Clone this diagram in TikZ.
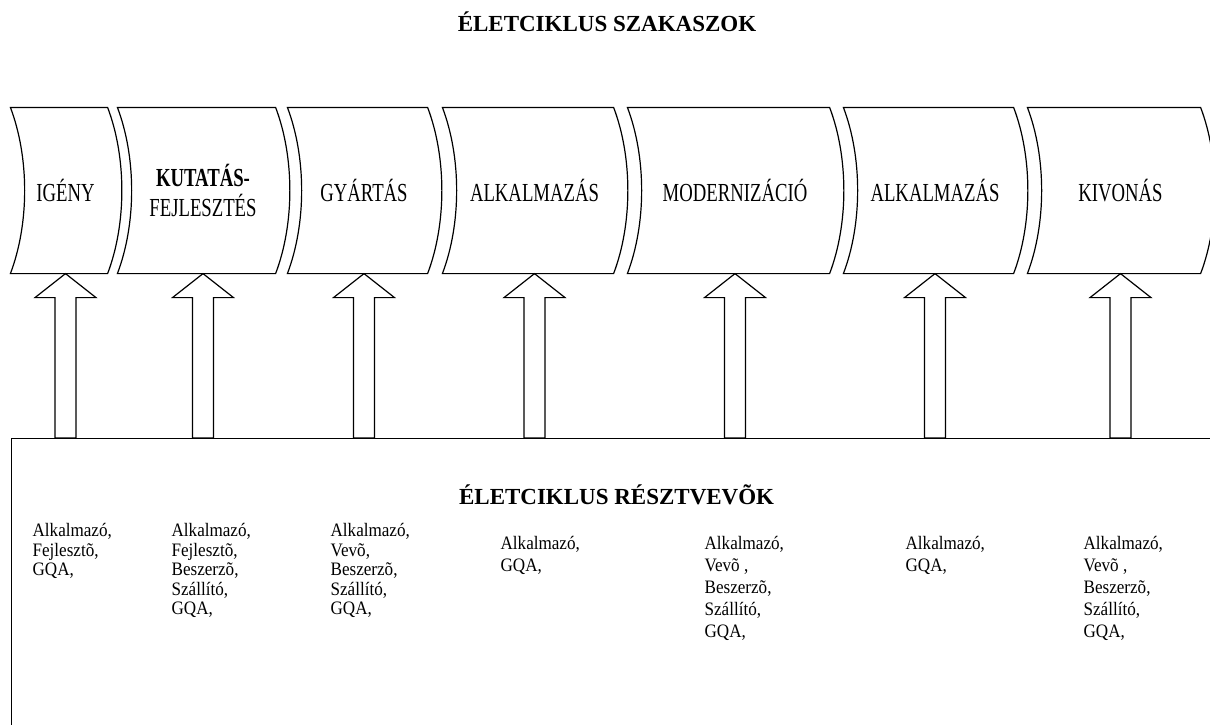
\documentclass[tikz,border=0pt]{standalone}
\usepackage{fontspec}
\setmainfont{Liberation Serif}
\newfontfamily\stagefont[FakeStretch=0.72]{Liberation Serif}
\newfontfamily\partyfont[FakeStretch=0.9]{Liberation Serif}
\usepackage{tikz}

\begin{document}
\begin{tikzpicture}[x=1pt,y=-1pt,line width=1.2pt,
    stage/.style={shape=rectangle,minimum height=165pt,inner sep=0pt,align=center,font=\stagefont\fontsize{26}{30}\selectfont},
    heading/.style={font=\bfseries\fontsize{23}{27}\selectfont},
    party/.style={anchor=north west,inner sep=0pt,align=left,font=\partyfont\fontsize{19}{19.5}\selectfont},
    partyb/.style={party,font=\partyfont\fontsize{19}{22}\selectfont}]
    \useasboundingbox (0,0) rectangle (1210,724);
    \clip (0,0) rectangle (1210,724);

    \node[heading] (szakaszok) at (607,22) {ÉLETCIKLUS SZAKASZOK};

    \node[draw,anchor=north west,minimum width=1210pt,minimum height=320pt,inner sep=0pt] (rv) at (11,438) {};
    \node[heading] (resztvevok) at ([yshift=-57pt]rv.north) {ÉLETCIKLUS RÉSZTVEVÕK};

    \node[stage,minimum width=96pt] (igeny) at (65.5,190.5) {IGÉNY};
    \node[stage,minimum width=157pt] (kutatas) at (203,190.5) {\textbf{KUTATÁS-}\\FEJLESZTÉS};
    \node[stage,minimum width=139pt] (gyartas) at (364,190.5) {GYÁRTÁS};
    \node[stage,minimum width=170pt] (alkalmazas) at (534.5,190.5) {ALKALMAZÁS};
    \node[stage,minimum width=201pt] (moderniz) at (735,190.5) {MODERNIZÁCIÓ};
    \node[stage,minimum width=169pt] (alkalmazasb) at (935,190.5) {ALKALMAZÁS};
    \node[stage,minimum width=172pt] (kivonas) at (1120.5,190.5) {KIVONÁS};

    \foreach \s in {igeny,kutatas,gyartas,alkalmazas,moderniz,alkalmazasb,kivonas}{
      \draw ([xshift=-6.5pt]\s.north west) -- ([xshift=-6.5pt]\s.north east)
        .. controls ([xshift=12.5pt,yshift=-50pt]\s.north east) and ([xshift=12.5pt,yshift=50pt]\s.south east) .. ([xshift=-6.5pt]\s.south east)
        -- ([xshift=-6.5pt]\s.south west)
        .. controls ([xshift=12.5pt,yshift=50pt]\s.south west) and ([xshift=12.5pt,yshift=-50pt]\s.north west) .. ([xshift=-6.5pt]\s.north west) -- cycle;
      \draw (\s.south) -- ++(30.5,24) -- ++(-20,0)
        -- ([xshift=10.5pt]\s.south |- rv.north) -- ([xshift=-10.5pt]\s.south |- rv.north)
        -- ([xshift=-10.5pt,yshift=-24pt]\s.south) -- ++(-20,0) -- cycle;
    }

    \node[party] (igenyp) at (32,523) {Alkalmazó,\\Fejlesztõ,\\GQA,};
    \node[party] (kutatasp) at (171,523) {Alkalmazó,\\Fejlesztõ,\\Beszerzõ,\\Szállító,\\GQA,};
    \node[party] (gyartasp) at (330,523) {Alkalmazó,\\Vevõ,\\Beszerzõ,\\Szállító,\\GQA,};
    \node[partyb] (alkalmazasp) at (500,536) {Alkalmazó,\\GQA,};
    \node[partyb] (modernizp) at (704,536) {Alkalmazó,\\Vevõ ,\\Beszerzõ,\\Szállító,\\GQA,};
    \node[partyb] (alkalmazasbp) at (905,536) {Alkalmazó,\\GQA,};
    \node[partyb] (kivonasp) at (1083,536) {Alkalmazó,\\Vevõ ,\\Beszerzõ,\\Szállító,\\GQA,};
\end{tikzpicture}
\end{document}
